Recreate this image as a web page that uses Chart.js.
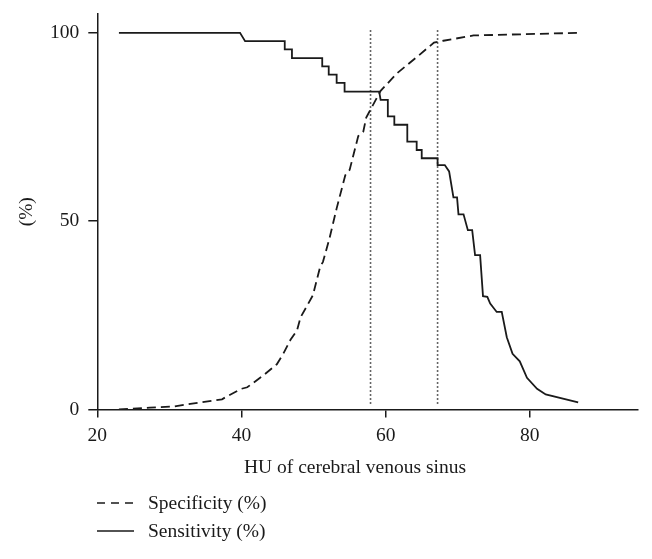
<!DOCTYPE html>
<html>
<head>
<meta charset="utf-8">
<script src="https://cdn.jsdelivr.net/npm/chart.js@4.4.1/dist/chart.umd.min.js"></script>
<style>
  html, body { margin: 0; padding: 0; background: #fff; }
  #wrap { width: 652px; height: 559px; }
</style>
</head>
<body>
<div id="wrap"><canvas id="chart" width="652" height="559"></canvas></div>
<script>
// Specificity (dashed curve): HU value and %
const specHU = [23.0, 27.3, 30.6, 32.9, 37.3, 38.0, 40.0, 40.8, 43.0, 44.9, 45.8, 46.8, 47.7, 48.2,
                49.0, 49.9, 50.1, 50.9, 51.3, 52.2, 53.2, 54.4, 55.0, 56.2, 56.9, 57.3, 59.3, 61.6,
                64.4, 66.7, 68.0, 72.2, 86.8];
const specPct = [0.0, 0.5, 0.8, 1.5, 2.7, 3.5, 5.5, 5.9, 9.0, 12.0, 14.8, 18.5, 21.0, 24.5,
                 27.2, 30.3, 31.8, 37.8, 39.2, 45.4, 53.4, 62.2, 63.6, 72.6, 73.8, 77.5, 84.6, 89.3,
                 93.7, 97.4, 97.9, 99.3, 100.0];

// Sensitivity (solid step curve): HU value and %
const sensHU = [23.0, 39.8, 40.5, 46.0, 46.0, 47.0, 47.0, 51.2, 51.2, 52.1, 52.1, 53.2, 53.2, 54.3,
                54.3, 59.1, 59.3, 60.3, 60.3, 61.2, 61.2, 63.0, 63.0, 64.3, 64.3, 65.0, 65.0, 67.2,
                67.2, 68.2, 68.8, 69.4, 69.9, 70.1, 70.8, 71.4, 72.0, 72.4, 73.1, 73.5, 74.1, 74.5,
                75.4, 76.1, 76.8, 77.6, 78.6, 79.6, 81.0, 82.2, 86.7];
const sensPct = [100.0, 100.0, 97.8, 97.8, 95.6, 95.6, 93.3, 93.3, 91.1, 91.1, 88.9, 88.9, 86.7, 86.7,
                 84.4, 84.4, 82.2, 82.2, 77.8, 77.8, 75.6, 75.6, 71.1, 71.1, 68.9, 68.9, 66.7, 66.7,
                 64.9, 64.9, 63.2, 56.3, 56.3, 51.8, 51.8, 47.6, 47.6, 41.0, 41.0, 30.1, 29.9, 28.1,
                 25.9, 25.9, 19.2, 14.8, 12.8, 8.4, 5.5, 4.0, 1.9];

// Dotted cut-off lines
const cutoffHU = [57.9, 67.2];
const cutoffSpan = [1.5, 101];

const xTicks = [20, 40, 60, 80];
const yTicks = [0, 50, 100];

const xTitle = 'HU of cerebral venous sinus';
const yTitle = '(%)';
const legendLabels = ['Specificity (%)', 'Sensitivity (%)'];

const FONT = '"Liberation Serif", "Times New Roman", serif';
const INK = '#1a1a1a';

function toPoints(xs, ys) {
    return xs.map((x, i) => ({ x: x, y: ys[i] }));
}

const datasets = [
    {
        label: legendLabels[0],
        data: toPoints(specHU, specPct),
        borderColor: INK,
        borderWidth: 1.8,
        borderDash: [9, 5],
        pointRadius: 0,
        fill: false
    },
    {
        label: legendLabels[1],
        data: toPoints(sensHU, sensPct),
        borderColor: INK,
        borderWidth: 1.8,
        pointRadius: 0,
        fill: false
    }
];

cutoffHU.forEach(hu => {
    datasets.push({
        label: 'cutoff',
        data: cutoffSpan.map(v => ({ x: hu, y: v })),
        borderColor: '#333',
        borderWidth: 1.6,
        borderDash: [1.5, 2.5],
        pointRadius: 0,
        fill: false
    });
});

// Axis titles and the legend drawn straight on the canvas
const textPlugin = {
    id: 'textPlugin',
    afterDraw(chart) {
        const ctx = chart.ctx;
        const area = chart.chartArea;
        ctx.save();
        ctx.fillStyle = INK;
        ctx.font = '19.5px ' + FONT;
        ctx.textAlign = 'center';
        ctx.textBaseline = 'middle';
        ctx.fillText(xTitle, 355, 468);

        ctx.save();
        ctx.translate(27, (area.top + area.bottom) / 2);
        ctx.rotate(-Math.PI / 2);
        ctx.fillText(yTitle, 0, 0);
        ctx.restore();

        // legend
        const rows = [503, 531];
        ctx.textAlign = 'left';
        legendLabels.forEach((label, i) => {
            const y = rows[i];
            ctx.beginPath();
            ctx.strokeStyle = INK;
            ctx.lineWidth = 1.6;
            ctx.setLineDash(i === 0 ? [8, 6] : []);
            ctx.moveTo(97, y);
            ctx.lineTo(134, y);
            ctx.stroke();
            ctx.setLineDash([]);
            ctx.fillText(label, 148, y + 1);
        });
        ctx.restore();
    }
};

new Chart(document.getElementById('chart'), {
    type: 'line',
    data: { datasets: datasets },
    options: {
        responsive: false,
        animation: false,
        layout: { padding: { top: 14, right: 14, left: 0, bottom: 0 } },
        plugins: {
            legend: { display: false },
            tooltip: { enabled: false }
        },
        scales: {
            x: {
                type: 'linear',
                min: 20,
                max: 95,
                afterBuildTicks: scale => { scale.ticks = xTicks.map(v => ({ value: v })); },
                afterFit: scale => {
                    scale.height = 149.5;
                    scale.paddingLeft = 0;
                    scale.paddingRight = 0;
                },
                ticks: {
                    color: INK,
                    font: { family: FONT, size: 19.5 },
                    padding: 7,
                    maxRotation: 0
                },
                grid: {
                    display: true,
                    drawOnChartArea: false,
                    drawTicks: true,
                    tickLength: 8,
                    color: INK,
                    lineWidth: 1.5
                },
                border: { display: true, color: INK, width: 1.5 }
            },
            y: {
                type: 'linear',
                min: 0,
                max: 105,
                afterBuildTicks: scale => { scale.ticks = yTicks.map(v => ({ value: v })); },
                afterFit: scale => {
                    scale.width = 97.3;
                    scale.paddingTop = 0;
                    scale.paddingBottom = 0;
                },
                ticks: {
                    color: INK,
                    font: { family: FONT, size: 19.5 },
                    padding: 9
                },
                grid: {
                    display: true,
                    drawOnChartArea: false,
                    drawTicks: true,
                    tickLength: 9,
                    color: INK,
                    lineWidth: 1.5
                },
                border: { display: true, color: INK, width: 1.5 }
            }
        }
    },
    plugins: [textPlugin]
});
</script>
</body>
</html>
